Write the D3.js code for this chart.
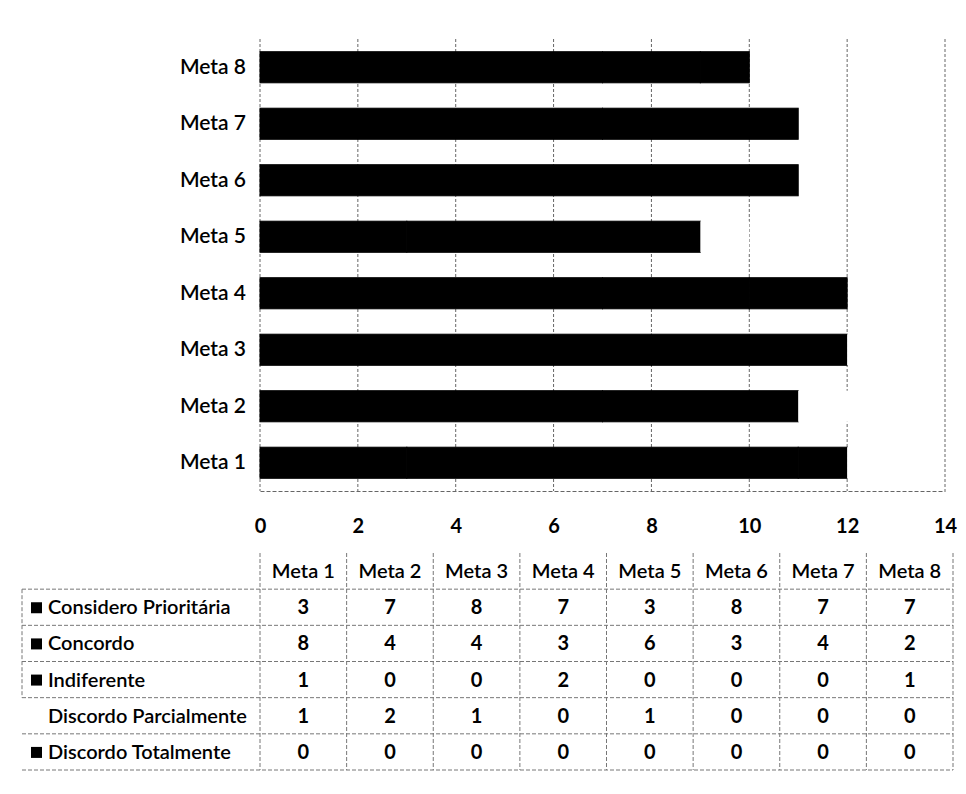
<!DOCTYPE html>
<html><head><meta charset="utf-8">
<script src="https://cdn.jsdelivr.net/npm/d3@7"></script>
<style>body{margin:0;background:#fff}svg{display:block}text{font-family:Lato,"Open Sans",sans-serif;fill:#000}</style>
</head><body>
<script>
const categories = ["Meta 1","Meta 2","Meta 3","Meta 4","Meta 5","Meta 6","Meta 7","Meta 8"];
const seriesNames = ["Considero Prioritária","Concordo","Indiferente","Discordo Parcialmente","Discordo Totalmente"];
const consideroPrioritaria = [3,7,8,7,3,8,7,7];
const concordo = [8,4,4,3,6,3,4,2];
const indiferente = [1,0,0,2,0,0,0,1];
const discordoParcialmente = [1,2,1,0,1,0,0,0];
const discordoTotalmente = [0,0,0,0,0,0,0,0];
const seriesColors = ["#000","#000","#000","#fff","#000"];
const xTicks = [0,2,4,6,8,10,12,14];

const seriesValues = [consideroPrioritaria, concordo, indiferente, discordoParcialmente, discordoTotalmente];
const rows = categories.map((c,i)=>{const o={cat:c}; seriesNames.forEach((s,j)=>o[s]=seriesValues[j][i]); return o;});

const W=966,H=794, FS=20;
const svg=d3.select("body").append("svg").attr("width",W).attr("height",H);
const x=d3.scaleLinear().domain([0,14]).range([260,945]);
const y=d3.scaleBand().domain(categories.slice().reverse()).range([39,491]).paddingInner(0.45).paddingOuter(0.225);

// gridlines
svg.append("g").selectAll("line").data(xTicks).join("line")
  .attr("x1",d=>x(d)).attr("x2",d=>x(d)).attr("y1",39).attr("y2",491)
  .attr("stroke","#666").attr("stroke-width",1).attr("stroke-dasharray","3,2");

const stack=d3.stack().keys(seriesNames)(rows);
svg.append("g").selectAll("g").data(stack).join("g")
  .attr("fill",(d,i)=>seriesColors[i])
  .attr("stroke",(d,i)=>seriesColors[i]==="#fff"?"none":seriesColors[i]).attr("stroke-width",1)
  .selectAll("rect").data(d=>d.filter(v=>v[1]>v[0])).join("rect")
  .attr("x",d=>x(d[0])).attr("width",d=>x(d[1])-x(d[0]))
  .attr("y",d=>y(d.data.cat)).attr("height",y.bandwidth());

// x axis
const xa=svg.append("g").attr("transform","translate(0,491)").call(d3.axisBottom(x).tickValues(xTicks).tickSize(0).tickPadding(28).tickFormat(d3.format("d")));
xa.select(".domain").attr("stroke","#666").attr("stroke-dasharray","4,2");
xa.selectAll("text").attr("font-size",20).attr("font-weight",700).attr("font-family","Lato");

// y axis
const ya=svg.append("g").attr("transform","translate(246,0)").call(d3.axisLeft(y).tickSize(0).tickPadding(0));
ya.select(".domain").remove();
ya.selectAll("text").attr("font-size",21).attr("font-family","Lato").attr("font-weight",600);

// data table
const colX=d3.scaleBand().domain(categories).range([260,953]);
const rowY=d3.scaleBand().domain(["header"].concat(seriesNames)).range([553,770]).paddingInner(0);
const tbl=svg.append("g");
tbl.selectAll(".h").data(categories).join("text").attr("class","h")
  .attr("x",d=>colX(d)+colX.bandwidth()/2).attr("y",rowY("header")+rowY.bandwidth()/2+7)
  .attr("text-anchor","middle").attr("font-size",FS).attr("font-weight",600).text(d=>d);
seriesNames.forEach((s,j)=>{
  const cy=rowY(s)+rowY.bandwidth()/2;
  if(seriesColors[j]!=="#fff") tbl.append("rect").attr("x",31).attr("y",cy-5).attr("width",11).attr("height",11).attr("fill",seriesColors[j]);
  tbl.append("text").attr("x",48).attr("y",cy+7).attr("font-size",FS).attr("font-weight",600).text(s);
  tbl.selectAll(null).data(seriesValues[j]).join("text")
    .attr("x",(d,i)=>colX(categories[i])+colX.bandwidth()/2).attr("y",cy+7)
    .attr("text-anchor","middle").attr("font-size",FS).attr("font-weight",700).text(d=>d);
});
const lineAttrs=sel=>sel.attr("stroke","#777").attr("stroke-width",1).attr("stroke-dasharray","4,2");
const rowEdges=seriesNames.map(s=>rowY(s)).concat([rowY.range()[1]]);
tbl.selectAll(".hl").data(rowEdges).join("line").attr("x1",22).attr("x2",953).attr("y1",d=>d).attr("y2",d=>d).call(lineAttrs);
const colEdges=categories.map(c=>colX(c)).concat([953]);
tbl.selectAll(".vl").data(colEdges).join("line").attr("x1",d=>d).attr("x2",d=>d).attr("y1",553).attr("y2",770).call(lineAttrs);
tbl.append("line").attr("x1",22).attr("x2",22).attr("y1",rowEdges[0]).attr("y2",rowEdges[3]).call(lineAttrs);
</script>
</body></html>
